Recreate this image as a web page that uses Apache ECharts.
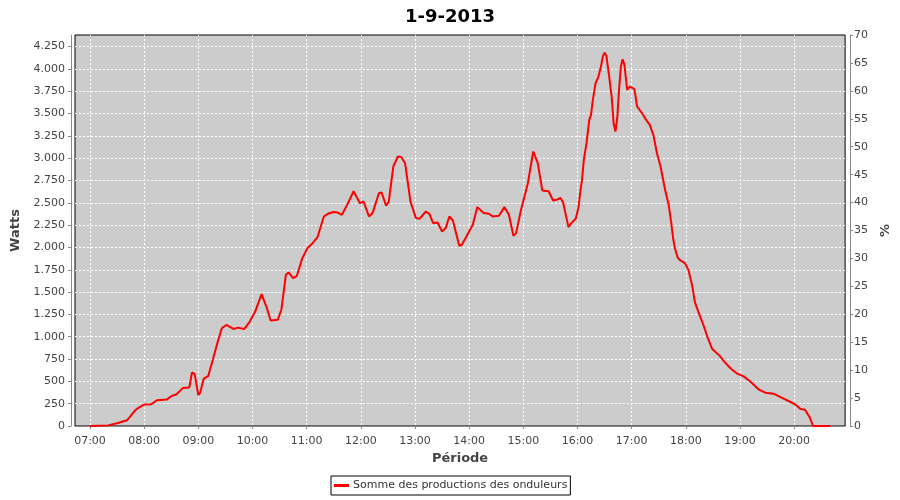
<!DOCTYPE html>
<html><head><meta charset="utf-8">
<script src="https://cdn.jsdelivr.net/npm/echarts@6/dist/echarts.min.js"></script>
<style>html,body{margin:0;padding:0;background:#fff}#c{width:900px;height:500px}</style>
</head><body><div id="c"></div>
<script>
const times = ['07:00','07:20','07:31','07:41','07:44','07:50','07:54','08:00','08:08','08:14','08:25','08:30','08:36','08:43','08:50','08:53','08:56','09:00','09:02','09:06','09:11','09:16','09:20','09:26','09:31','09:39','09:44','09:51','09:57','10:03','10:10','10:16','10:20','10:28','10:32','10:37','10:40','10:45','10:49','10:55','11:01','11:06','11:12','11:19','11:24','11:30','11:34','11:39','11:45','11:52','11:59','12:03','12:09','12:13','12:20','12:23','12:28','12:31','12:36','12:41','12:45','12:49','12:55','13:01','13:05','13:12','13:16','13:20','13:25','13:30','13:34','13:38','13:42','13:49','13:52','13:58','14:04','14:09','14:16','14:22','14:26','14:33','14:39','14:44','14:49','14:52','14:57','15:05','15:11','15:16','15:21','15:28','15:33','15:37','15:41','15:44','15:50','15:53','15:58','16:01','16:03','16:05','16:07','16:10','16:13','16:15','16:17','16:20','16:23','16:26','16:28','16:30','16:32','16:35','16:38','16:40','16:42','16:44','16:46','16:48','16:50','16:52','16:55','16:58','17:00','17:03','17:06','17:12','17:16','17:20','17:24','17:28','17:32','17:37','17:41','17:44','17:46','17:48','17:51','17:54','17:59','18:03','18:07','18:10','18:14','18:19','18:24','18:29','18:37','18:43','18:50','18:57','19:04','19:12','19:21','19:28','19:37','19:46','19:56','20:01','20:07','20:12','20:17','20:21','20:40'];
const watts = [0,7,34,64,100,176,206,240,244,289,296,334,356,427,431,600,581,345,371,532,559,739,889,1095,1132,1087,1102,1087,1170,1282,1477,1320,1181,1189,1305,1694,1720,1657,1678,1875,1995,2041,2115,2347,2380,2398,2392,2366,2480,2630,2496,2515,2347,2385,2608,2616,2467,2515,2907,3019,3011,2944,2515,2329,2321,2403,2377,2273,2280,2179,2217,2347,2302,2019,2030,2142,2254,2452,2385,2377,2347,2355,2452,2366,2131,2161,2403,2720,3075,2944,2638,2630,2526,2534,2556,2507,2228,2270,2321,2441,2620,2758,2982,3168,3429,3485,3653,3840,3907,4026,4138,4183,4146,3922,3672,3392,3299,3448,3765,4026,4108,4045,3765,3802,3821,3773,3579,3497,3429,3373,3262,3056,2907,2646,2478,2265,2097,1985,1884,1854,1824,1743,1575,1388,1276,1145,996,866,791,716,642,586,556,493,407,373,362,317,269,243,190,183,101,0,0];
const hourTicks = ['07:00','08:00','09:00','10:00','11:00','12:00','13:00','14:00','15:00','16:00','17:00','18:00','19:00','20:00'];
const wattTicks = [0,250,500,750,1000,1250,1500,1750,2000,2250,2500,2750,3000,3250,3500,3750,4000,4250];
const pctTicks = [0,5,10,15,20,25,30,35,40,45,50,55,60,65,70];
const seriesName = 'Somme des productions des onduleurs';
const titleText = '1-9-2013';

function toMin(s){const p=s.split(':');return (+p[0])*60+(+p[1]);}
function toHHMM(v){const h=Math.floor(v/60),m=Math.round(v-h*60);return String(h).padStart(2,'0')+':'+String(m).padStart(2,'0');}
function fmtW(v){return String(v).replace(/\B(?=(\d{3})+(?!\d))/g,'.');}

const FONT='DejaVu Sans';
const labelStyle={color:'#444',fontSize:11,fontFamily:FONT};
const nameStyle={color:'#444',fontSize:13,fontWeight:'bold',fontFamily:FONT};
const split={show:true,lineStyle:{color:'#ffffff',type:[2,2],width:1}};
const axLine={show:true,lineStyle:{color:'#888',width:1}};

const chart=echarts.init(document.getElementById('c'),null,{renderer:'canvas'});
chart.setOption({
  animation:false,
  backgroundColor:'#fff',
  title:{text:titleText,left:'center',top:3,textStyle:{fontSize:18,fontWeight:'bold',color:'#000',fontFamily:FONT}},
  grid:{left:75,right:54,top:35,bottom:74,show:true,backgroundColor:'#cccccc',borderColor:'#000',borderWidth:1},
  legend:{left:331,top:476,padding:[4,3,4,3],borderColor:'#000',borderWidth:1,borderRadius:0,itemWidth:15,itemHeight:3,itemGap:4,
    data:[{name:seriesName,icon:'rect'}],textStyle:{color:'#333',fontSize:11,fontFamily:FONT,padding:[0,0,0,-1]}},
  xAxis:{type:'value',min:403.4,max:1256.4,offset:5,
    name:'Période',nameLocation:'middle',nameGap:20,nameTextStyle:nameStyle,
    axisLine:axLine,axisTick:{show:true,length:3,lineStyle:{color:'#888'},customValues:hourTicks.map(toMin)},
    axisLabel:Object.assign({margin:5,customValues:hourTicks.map(toMin),formatter:toHHMM},labelStyle),
    splitLine:split},
  yAxis:[
    {type:'value',min:0,max:4380,interval:250,position:'left',offset:4,
      name:'Watts',nameLocation:'middle',nameGap:46,nameTextStyle:nameStyle,
      axisLine:axLine,axisTick:{show:true,length:3,lineStyle:{color:'#888'},customValues:wattTicks},
      axisLabel:Object.assign({margin:6,customValues:wattTicks,formatter:fmtW},labelStyle),
      splitLine:split},
    {type:'value',min:0,max:70,interval:5,position:'right',offset:5,
      name:'%',nameLocation:'middle',nameGap:27,nameTextStyle:nameStyle,
      axisLine:axLine,axisTick:{show:true,length:3,lineStyle:{color:'#888'},customValues:pctTicks},
      axisLabel:Object.assign({margin:4,customValues:pctTicks},labelStyle),
      splitLine:{show:false}}
  ],
  series:[{name:seriesName,type:'line',yAxisIndex:0,symbol:'none',
    lineStyle:{color:'#ff0000',width:2},itemStyle:{color:'#ff0000'},
    data:times.map((t,i)=>[toMin(t),watts[i]])}]
});
</script></body></html>
